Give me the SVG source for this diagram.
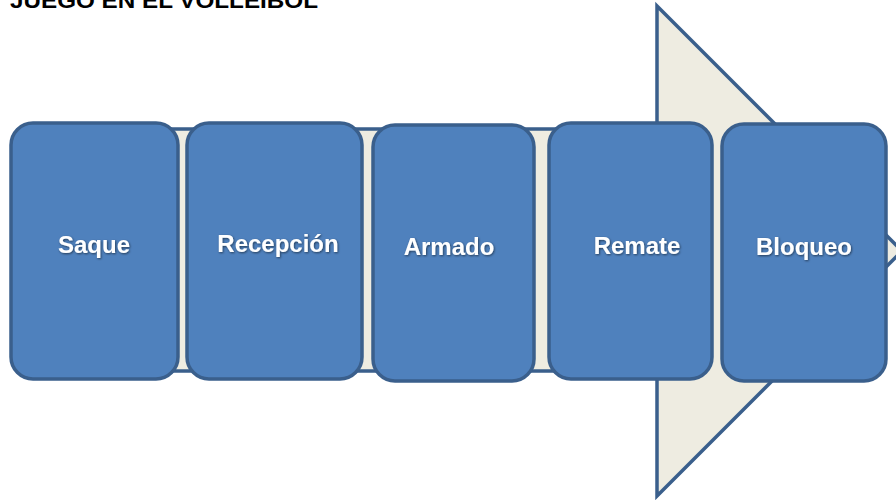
<svg xmlns="http://www.w3.org/2000/svg" width="896" height="500" viewBox="0 0 896 500">
<style>
.box{fill:#4F81BD;stroke:#3A5F8C;stroke-width:3.5}
.arrow{fill:#EEECE1;stroke:#3A5F8C;stroke-width:3.5;stroke-linejoin:miter}
.lbl{font-family:"Liberation Sans",Arial,sans-serif;font-weight:bold;font-size:24px;fill:#FFFFFF;text-anchor:middle;filter:url(#sh)}
.title{font-family:"Liberation Sans",Arial,sans-serif;font-weight:bold;font-size:22px;fill:#000000}
</style>
<defs>
<filter id="sh" x="-10%" y="-20%" width="130%" height="150%">
<feDropShadow dx="0.8" dy="1" stdDeviation="0.8" flood-color="#000" flood-opacity="0.55"/>
</filter>
</defs>
<rect width="896" height="500" fill="#FFFFFF"/>
<text class="title" x="10" y="8" textLength="308" lengthAdjust="spacingAndGlyphs">JUEGO EN EL VOLLEIBOL</text>
<g id="connectors">
<path class="arrow" d="M 30 129 L 657 129 L 657 6 L 902 251 L 657 496 L 657 371 L 30 371 Z"/>
</g>
<g id="saque"><rect class="box" x="11" y="123" width="167" height="256" rx="22"/><text class="lbl" x="94" y="253">Saque</text></g>
<g id="recepcion"><rect class="box" x="187" y="123" width="175" height="256" rx="22"/><text class="lbl" x="278" y="252">Recepción</text></g>
<g id="armado"><rect class="box" x="373" y="125" width="161" height="256" rx="22"/><text class="lbl" x="449" y="255">Armado</text></g>
<g id="remate"><rect class="box" x="549" y="123" width="163" height="256" rx="22"/><text class="lbl" x="637" y="254">Remate</text></g>
<g id="bloqueo"><rect class="box" x="722" y="124" width="164" height="257" rx="22"/><text class="lbl" x="804" y="255">Bloqueo</text></g>
</svg>
